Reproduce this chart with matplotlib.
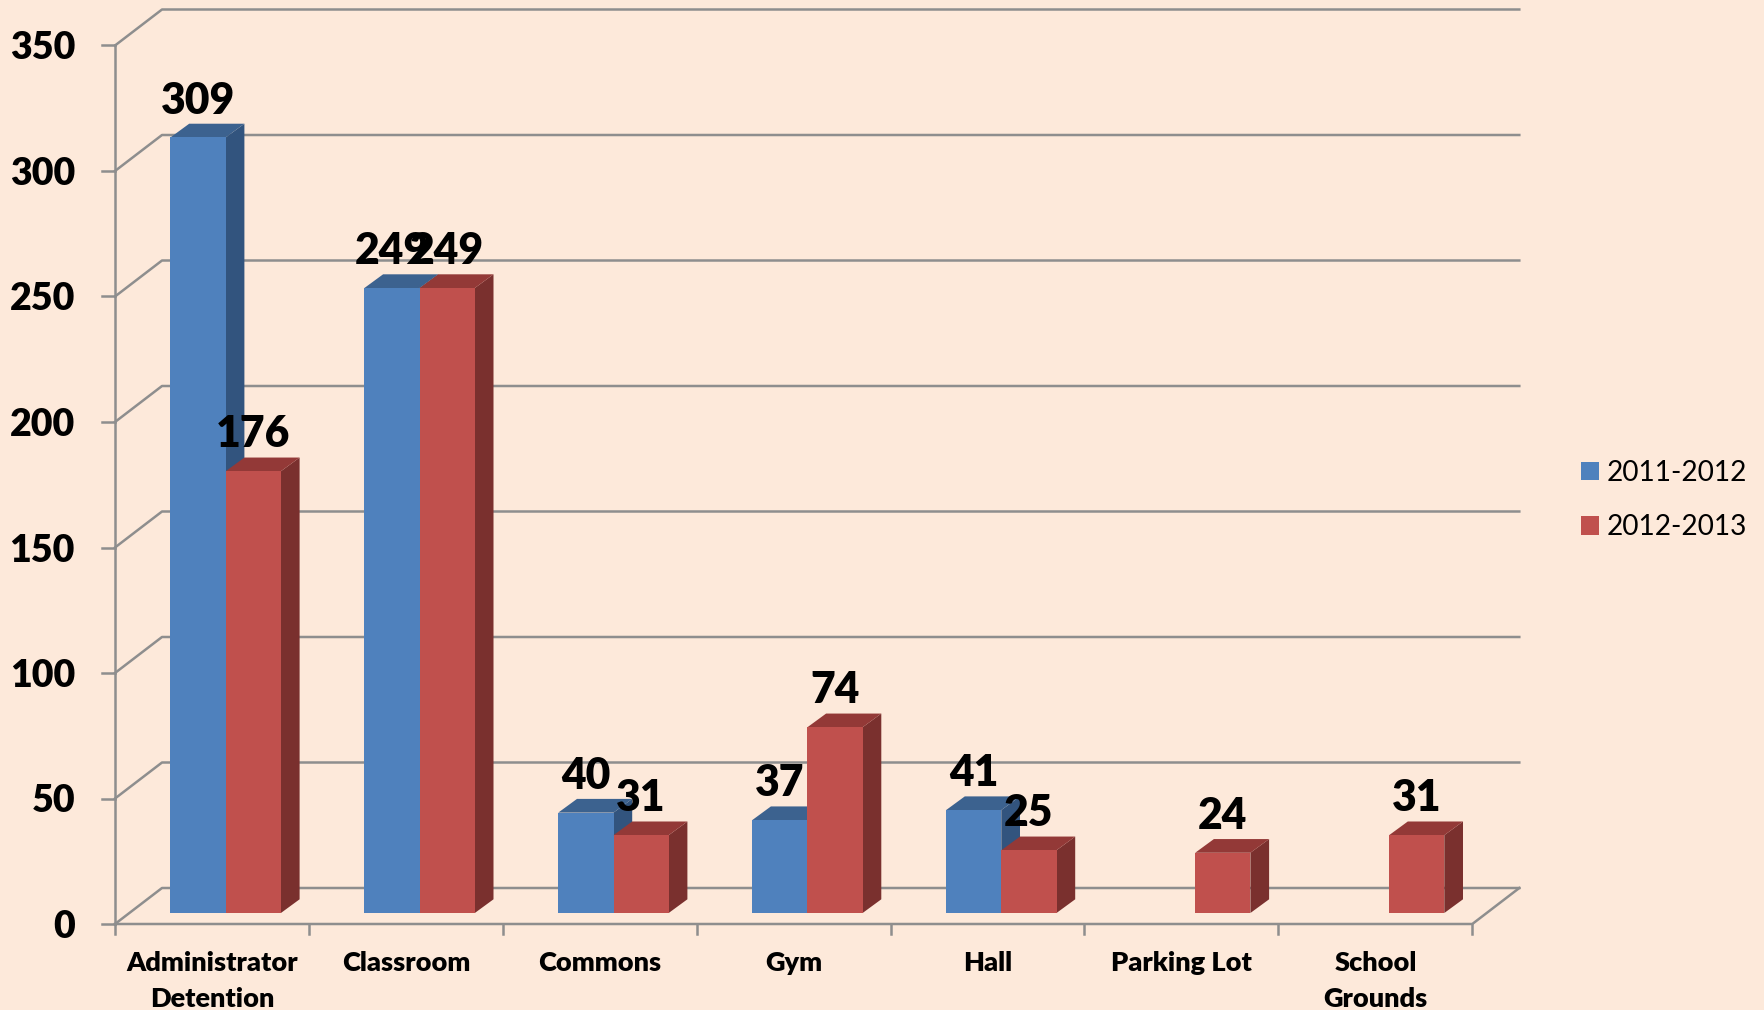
import matplotlib
matplotlib.use('Agg')
from matplotlib import pyplot as plt
from matplotlib.patches import Polygon, Rectangle, Patch

categories = ['Administrator\nDetention', 'Classroom', 'Commons', 'Gym', 'Hall', 'Parking Lot', 'School\nGrounds']
values_2011 = [309, 249, 40, 37, 41, None, None]
values_2012 = [176, 249, 31, 74, 25, 24, 31]
y_ticks = [0, 50, 100, 150, 200, 250, 300, 350]

BG = '#FDE9DA'
GRID = '#8E8E8E'
# front, side, top
BLUE = ('#4F81BD', '#32547E', '#3C628F')
RED = ('#C0504D', '#7A302E', '#933937')

PX_X = 193.9   # pixels per category
PX_Y = 2.51    # pixels per value unit
X0 = 115
Y0 = 924

plt.rcParams['font.family'] = ['Lato', 'DejaVu Sans']

fig = plt.figure(figsize=(17.65, 10.10), dpi=100, facecolor=BG)
ax = fig.add_axes([0, 0, 1, 1])
ax.set_xlim(-X0 / PX_X, (1765 - X0) / PX_X)
ax.set_ylim((Y0 - 1010) / PX_Y, Y0 / PX_Y)
ax.axis('off')

# depth of the chart box and of the bars
wall_dx = 47 / PX_X
wall_dy = 36 / PX_Y
bar_dx = 18.7 / PX_X
bar_dy = 13.7 / PX_Y
bar_left = 55.5 / PX_X
bar_w = 55.2 / PX_X
floor = 11 / PX_Y
n = len(categories)

# walls and floor
for v in y_ticks:
    ax.plot([0, wall_dx, n + wall_dx], [v, v + wall_dy, v + wall_dy], color=GRID, lw=1.8, zorder=1)
    ax.plot([-13 / PX_X, 0], [v, v], color=GRID, lw=1.8, zorder=1)
    ax.text(-40 / PX_X, v - 3 / PX_Y, str(v), ha='right', va='center', fontsize=27, fontweight='heavy', color='black')
ax.plot([0, 0], [0, y_ticks[-1]], color=GRID, lw=1.8, zorder=1)
ax.plot([0, n, n + wall_dx], [0, 0, wall_dy], color=GRID, lw=1.8, zorder=1)
for i in range(n + 1):
    ax.plot([i, i], [0, -10 / PX_Y], color=GRID, lw=1.8, zorder=1)


def draw_bar(x, v, colors):
    top = floor + v
    side = Polygon([(x + bar_w, floor), (x + bar_w + bar_dx, floor + bar_dy),
                    (x + bar_w + bar_dx, top + bar_dy), (x + bar_w, top)],
                   facecolor=colors[1], edgecolor='none', zorder=2)
    cap = Polygon([(x, top), (x + bar_dx, top + bar_dy), (x + bar_w + bar_dx, top + bar_dy), (x + bar_w, top)],
                  facecolor=colors[2], edgecolor='none', zorder=2)
    front = Rectangle((x, floor), bar_w, v, facecolor=colors[0], edgecolor='none', zorder=2)
    ax.add_patch(side)
    ax.add_patch(cap)
    ax.add_patch(front)
    ax.annotate(str(v), (x + bar_w / 2, top), xytext=(0, 17.2), textcoords='offset points',
                ha='center', va='baseline', fontsize=30.7, fontweight='heavy', color='black', zorder=5)


for i in range(n):
    if values_2011[i] is not None:
        draw_bar(i + bar_left, values_2011[i], BLUE)
    if values_2012[i] is not None:
        draw_bar(i + bar_left + bar_w, values_2012[i], RED)
    # each line of a category label on its own baseline
    for k, line in enumerate(categories[i].split('\n')):
        ax.text(i + 0.5, (-47 - 36 * k) / PX_Y, line, ha='center', va='baseline',
                fontsize=19.5, fontweight='heavy', color='black')

handles = [Patch(facecolor=BLUE[0], label='2011-2012'), Patch(facecolor=RED[0], label='2012-2013')]
ax.legend(handles=handles, loc='center left', bbox_to_anchor=(1556 / 1765, 1 - 500 / 1010), frameon=False,
          fontsize=20.2, handlelength=0.65, handleheight=0.62, handletextpad=0.27, labelspacing=1.02,
          labelcolor='black')

fig.savefig('out.png', dpi=100, facecolor=BG)
